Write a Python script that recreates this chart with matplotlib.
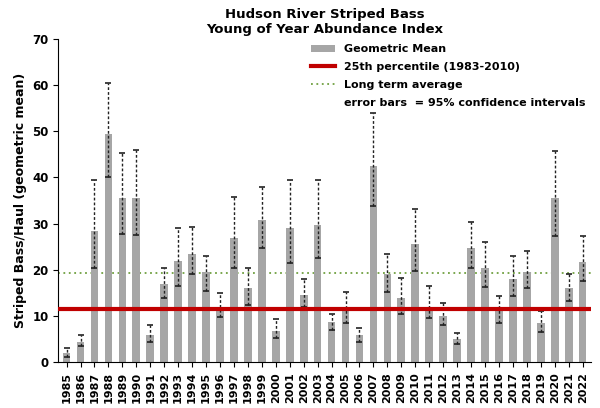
import matplotlib.pyplot as plt
import numpy as np

years = list(range(1985, 2023))
geo_mean = [2, 4.5, 28.3, 49.3, 35.5, 35.5, 6, 17, 22, 23.5, 19.5, 11.5, 27, 16, 30.7,
            6.8, 29, 14.5, 29.8, 8.7, 11, 6, 42.5, 19, 14, 25.5, 12, 10, 5, 24.8,
            20.5, 11, 18, 19.5, 8.5, 35.5, 16, 21.7]
ci_low = [1.2, 3.5, 20.3, 40, 27.7, 27.5, 4.5, 14, 16.5, 19, 15.5, 9.8, 20.5, 12.5, 24.8,
          5.2, 21.5, 12, 22.5, 7, 8.5, 4.5, 33.8, 15.3, 10.5, 19.8, 9.5, 8, 3.9, 20.3,
          16.3, 8.5, 14.3, 16, 6.5, 27.3, 13.3, 17.5]
ci_high = [3, 6, 39.5, 60.5, 45.3, 46, 8, 20.5, 29, 29.2, 23, 15, 35.8, 20.5, 38,
           9.3, 39.5, 18, 39.5, 10.5, 15.2, 7.5, 54, 23.5, 18.2, 33.2, 16.5, 12.8, 6.3, 30.3,
           26, 14.3, 23, 24, 11, 45.8, 19, 27.3]
pct25 = 11.5
long_avg = 19.3

x = np.arange(len(years))
m = np.array(geo_mean)
yerr = [m - np.array(ci_low), np.array(ci_high) - m]

fig, ax = plt.subplots(figsize=(6, 4.08), dpi=100)
fig.subplots_adjust(left=0.097, right=0.985, top=0.905, bottom=0.112)

bars = ax.bar(x, m, width=0.55, color="#a6a6a6", zorder=2)
eb = ax.errorbar(x, m, yerr=yerr, fmt="none", ecolor="#222222", elinewidth=1.0,
                 capsize=2, capthick=1.2, zorder=3)
eb[2][0].set_linestyle((0, (2, 1.5)))
red = ax.axhline(pct25, color="#c00000", lw=3, zorder=4)
green = ax.axhline(long_avg, color="#70a040", lw=1.3, ls=(0, (1, 2)), zorder=1)
blank, = ax.plot([], [], " ")

ax.set_xlim(-0.6, len(years) - 0.4)
ax.set_ylim(0, 70)
ax.set_yticks(range(0, 71, 10))
ax.set_xticks(x)
ax.set_xticklabels(years, rotation=90, fontsize=8, fontweight="bold")
ax.tick_params(axis="y", labelsize=8.5)
for lbl in ax.get_yticklabels():
    lbl.set_fontweight("bold")
ax.set_ylabel("Striped Bass/Haul (geometric mean)", fontsize=9, fontweight="bold")
ax.set_title("Hudson River Striped Bass\nYoung of Year Abundance Index", fontsize=9.5,
             fontweight="bold", pad=4)
for s in ["top", "right"]:
    ax.spines[s].set_visible(False)

ax.legend([bars, red, green, blank],
          ["Geometric Mean", "25th percentile (1983-2010)", "Long term average",
           "error bars  = 95% confidence intervals"],
          loc="upper right", frameon=False, handlelength=2.2, borderaxespad=0.1,
          labelspacing=0.7, prop={"weight": "bold", "size": 8})
fig.savefig("out.png")
